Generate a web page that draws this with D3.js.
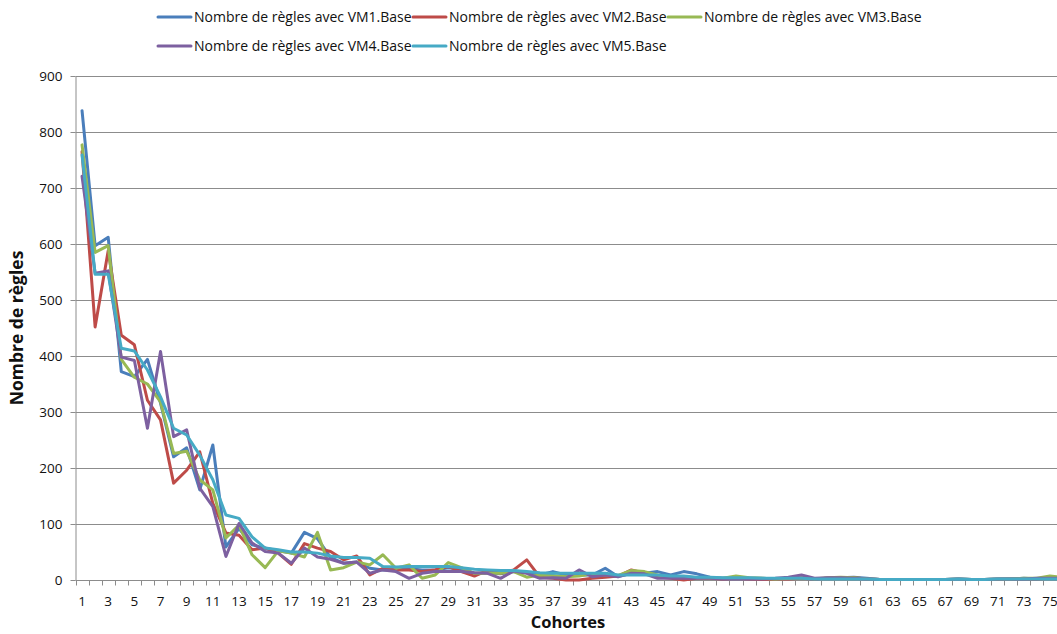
<!DOCTYPE html>
<html>
<head>
<meta charset="utf-8">
<script src="https://cdn.jsdelivr.net/npm/d3@7"></script>
<style>
  html, body { margin: 0; padding: 0; background: #fff; overflow: hidden; }
  svg { display: block; font-family: "Open Sans", "Noto Sans", sans-serif; }
</style>
</head>
<body>
<svg id="chart" width="1057" height="634"></svg>
<script>
// Cohort numbers on the x axis
const cohorts = d3.range(1, 77);

// Number of rules per cohort for each base
const vm1 = [838,597,612,372,363,394,316,220,236,161,241,59,92,63,57,52,48,85,74,40,30,32,21,18,18,20,18,18,22,19,12,13,11,15,13,9,15,9,9,9,21,6,12,12,15,9,15,11,5,3,4,3,3,2,3,3,2,3,4,5,3,1,1,1,1,1,1,2,1,1,2,2,3,2,4,3];
const vm2 = [765,452,588,437,420,321,286,173,196,229,137,84,80,54,57,48,28,65,57,51,36,43,9,21,18,18,15,18,24,15,7,17,12,18,36,5,3,0,0,3,5,7,18,12,6,3,0,3,3,2,3,2,1,2,2,3,2,3,4,4,2,1,1,1,1,1,1,1,1,1,1,2,2,2,3,3];
const vm3 = [777,585,597,394,362,350,318,226,230,179,161,75,98,45,22,52,48,41,85,18,22,32,27,45,21,27,3,9,31,22,12,12,12,15,5,9,8,6,7,11,9,8,17,15,9,5,6,4,3,3,7,4,3,2,3,4,2,4,5,4,2,1,1,1,1,1,1,2,1,1,2,2,3,3,7,5];
const vm4 = [721,548,552,398,392,271,408,256,268,164,131,42,101,66,51,48,30,57,41,37,30,32,12,18,15,3,12,15,15,15,13,12,3,16,12,3,4,3,18,6,9,6,12,11,3,3,3,3,3,2,2,2,2,3,5,9,3,4,4,3,2,1,1,1,1,1,1,2,1,1,2,2,2,3,3,3];
const vm5 = [759,546,546,414,409,375,327,271,259,223,179,116,110,77,57,54,50,50,48,43,40,40,39,24,23,24,24,24,24,22,19,18,17,17,15,13,12,12,12,12,12,9,9,9,9,7,7,5,5,4,4,4,3,3,3,3,2,2,2,2,2,1,1,1,1,1,1,2,1,1,2,2,2,2,2,2];

const seriesNames = [
  "Nombre de règles avec VM1.Base",
  "Nombre de règles avec VM2.Base",
  "Nombre de règles avec VM3.Base",
  "Nombre de règles avec VM4.Base",
  "Nombre de règles avec VM5.Base"
];
const seriesValues = [vm1, vm2, vm3, vm4, vm5];
const seriesColors = ["#4a7ebb", "#be4b48", "#98b954", "#7d60a0", "#46aac5"];

const yTicks = d3.range(0, 901, 100);

const svg = d3.select("#chart");
const plot = { left: 75.5, top: 76, bottom: 580, step: 13.08 };

const x = d3.scaleBand()
  .domain(cohorts)
  .range([plot.left, plot.left + cohorts.length * plot.step])
  .paddingInner(0).paddingOuter(0);
const y = d3.scaleLinear().domain([0, 900]).range([plot.bottom, plot.top]);
const xc = d => x(d) + x.bandwidth() / 2;
const xEnd = plot.left + cohorts.length * plot.step;

// Horizontal gridlines
svg.append("g")
  .selectAll("line")
  .data(yTicks.filter(t => t > 0))
  .join("line")
  .attr("x1", plot.left).attr("x2", xEnd)
  .attr("y1", d => Math.round(y(d)) + 0.5).attr("y2", d => Math.round(y(d)) + 0.5)
  .attr("stroke", "#8c8c8c").attr("stroke-width", 1);

// Y axis
const yAxis = svg.append("g")
  .attr("transform", `translate(${plot.left},0)`)
  .call(d3.axisLeft(y).tickValues(yTicks).tickSize(5).tickPadding(8).tickSizeOuter(0));
yAxis.select(".domain").attr("stroke", "#8c8c8c");
yAxis.selectAll(".tick line").attr("stroke", "#8c8c8c");
yAxis.selectAll(".tick text").attr("font-size", 13.5).attr("fill", "#111")
  .attr("font-family", "'Open Sans', sans-serif");

// X axis: tick marks on category boundaries, labels on odd cohorts
const xAxisG = svg.append("g").attr("transform", `translate(0,${plot.bottom + 0.5})`);
xAxisG.append("line")
  .attr("x1", plot.left).attr("x2", xEnd)
  .attr("stroke", "#8c8c8c");
xAxisG.selectAll("line.tk")
  .data(cohorts)
  .join("line").attr("class", "tk")
  .attr("x1", d => Math.round(x(d)) + 0.5).attr("x2", d => Math.round(x(d)) + 0.5)
  .attr("y1", 0).attr("y2", 5)
  .attr("stroke", "#8c8c8c");
xAxisG.selectAll("text")
  .data(cohorts.filter(d => d % 2 === 1))
  .join("text")
  .attr("x", d => xc(d)).attr("y", 25)
  .attr("text-anchor", "middle")
  .attr("font-size", 13.5).attr("fill", "#111")
  .text(d => d);

// Series lines
const line = d3.line().x((v, i) => xc(cohorts[i])).y(v => y(v));
svg.append("g")
  .selectAll("path")
  .data(seriesValues)
  .join("path")
  .attr("d", d => line(d))
  .attr("fill", "none")
  .attr("stroke", (d, i) => seriesColors[i])
  .attr("stroke-width", 3)
  .attr("stroke-linejoin", "round")
  .attr("stroke-linecap", "round");

// Axis titles
svg.append("text")
  .attr("transform", "translate(23,328) rotate(-90)")
  .attr("text-anchor", "middle")
  .attr("font-size", 17.5).attr("font-weight", "bold").attr("fill", "#111")
  .text("Nombre de règles");
svg.append("text")
  .attr("x", 568).attr("y", 628)
  .attr("text-anchor", "middle")
  .attr("font-size", 16.5).attr("font-weight", "bold").attr("fill", "#111")
  .text("Cohortes");

// Legend
const legendPos = [
  { x: 158, y: 17 }, { x: 413, y: 17 }, { x: 668, y: 17 },
  { x: 158, y: 46 }, { x: 413, y: 46 }
];
const legend = svg.append("g")
  .selectAll("g")
  .data(seriesNames)
  .join("g")
  .attr("transform", (d, i) => `translate(${legendPos[i].x},${legendPos[i].y})`);
legend.append("line")
  .attr("x1", 0).attr("x2", 33).attr("y1", 0).attr("y2", 0)
  .attr("stroke", (d, i) => seriesColors[i]).attr("stroke-width", 3)
  .attr("stroke-linecap", "round");
legend.append("text")
  .attr("x", 36).attr("y", 5)
  .attr("font-size", 14).attr("fill", "#111")
  .text(d => d);
</script>
</body>
</html>
